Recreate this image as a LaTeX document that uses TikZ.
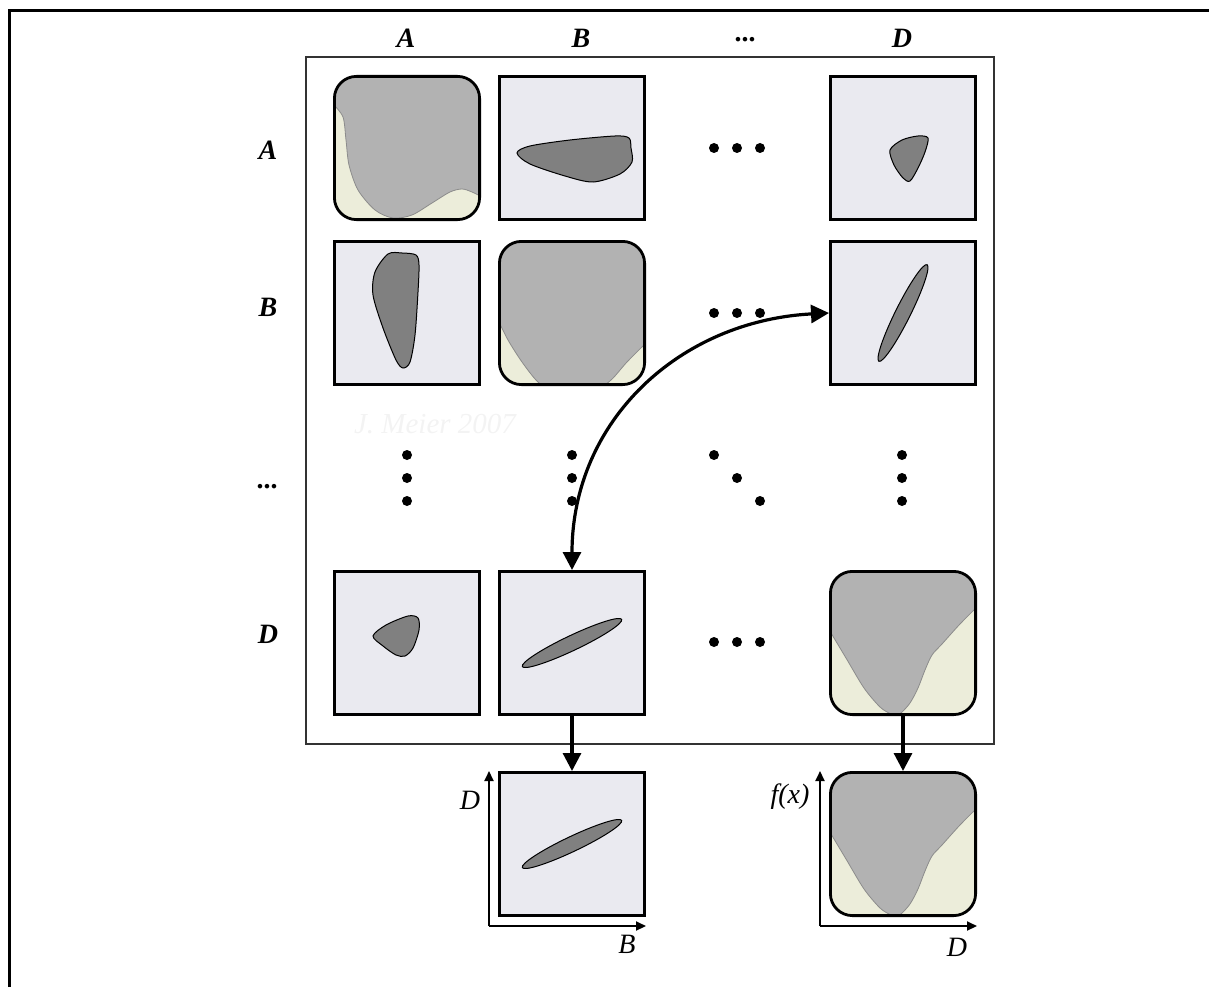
\documentclass[tikz,border=0pt]{standalone}
\usepackage{fontspec}
\setmainfont{Liberation Serif}
\usetikzlibrary{arrows.meta}
\definecolor{cellbg}{RGB}{234,234,240}
\definecolor{beige}{RGB}{236,237,218}
\definecolor{region}{RGB}{178,178,178}
\definecolor{regionln}{RGB}{140,140,140}
\definecolor{blobc}{RGB}{128,128,128}
\definecolor{wm}{RGB}{243,243,243}
\begin{document}
\begin{tikzpicture}[x=1pt,y=-1pt,
  cell/.style={draw=black,line width=2.8pt,fill=cellbg,minimum width=145.2pt,minimum height=143.2pt,inner sep=0pt},
  rcell/.style={draw=black,line width=2.8pt,rounded corners=22pt,minimum width=145.2pt,minimum height=143.2pt,inner sep=0pt},
  blob/.style={fill=blobc,draw=black,line width=1pt},
  regfill/.style={fill=region},
  regline/.style={draw=regionln,line width=0.8pt},
  lab/.style={font=\fontsize{28}{30}\selectfont\bfseries\itshape,inner sep=0pt},
  axlab/.style={font=\fontsize{28}{30}\selectfont\itshape,inner sep=0pt},
  arr/.style={line width=3.2pt,-{Triangle[length=18pt,width=18pt]}},
  darr/.style={line width=3.2pt,{Triangle[length=18pt,width=18pt]}-{Triangle[length=18pt,width=18pt]}},
  axis/.style={line width=2pt,-{Triangle[length=10pt,width=9pt]}},
  dot/.style={fill=black}
]
\useasboundingbox (0,0) rectangle (1209,987);
% outer frame (top and left)
\draw[line width=3pt] (9,987) -- (9,11) -- (1209,11);
% inner frame
\draw[line width=1.3pt,draw=black!80] (306,57) rectangle (994,744);
% watermark
\node[font=\fontsize{29}{32}\selectfont\itshape,text=wm] (wmark) at (435,424) {J. Meier 2007};

% column labels
\node[lab] (cA) at (406,38) {A};
\node[lab] (cB) at (581,38) {B};
\node[lab] (cdots) at (746,40) {...};
\node[lab] (cD) at (902,38) {D};
% row labels
\node[lab] (rA) at (268,150) {A};
\node[lab] (rB) at (268,307) {B};
\node[lab] (rdots) at (268,487) {...};
\node[lab] (rD) at (268,634) {D};

% ---------- cell A-A (rounded)
\begin{scope}
\clip[rounded corners=22pt] (334.4,76.4) rectangle (479.6,219.6);
\fill[beige] (330,70) rectangle (485,225);
\fill[regfill] (330,70) -- (330,104) -- plot[smooth] coordinates {(333,104) (343,117) (346,140) (349,165) (358,190) (375,210) (393,218) (412,215) (432,203) (450,192) (462,189) (472,192) (482,197)} -- (485,197) -- (485,70) -- cycle;
\draw[regline] plot[smooth] coordinates {(333,104) (343,117) (346,140) (349,165) (358,190) (375,210) (393,218) (412,215) (432,203) (450,192) (462,189) (472,192) (482,197)};
\end{scope}
\node[rcell] (AA) at (407,148) {};

% ---------- cell A-B
\node[cell] (AB) at (572,148) {};
\draw[blob] plot[smooth cycle] coordinates {(517,153) (530,146) (570,140) (615,136) (629,138) (631,148) (632,162) (620,174) (593,182) (565,176) (530,164)};

% ---------- cell A-D
\node[cell] (AD) at (903,148) {};
\draw[blob] plot[smooth cycle] coordinates {(890,150) (902,140) (918,136) (928,138) (925,152) (918,168) (910,181) (903,178) (894,165)};

% ---------- cell B-A
\node[cell] (BA) at (407,313) {};
\draw[blob] plot[smooth cycle] coordinates {(388,254) (402,253) (416,255) (419,265) (418,292) (415,335) (410,362) (403,368) (396,360) (383,328) (373,295) (375,272)};

% ---------- cell B-B (rounded)
\begin{scope}
\clip[rounded corners=22pt] (499.4,241.4) rectangle (644.6,384.6);
\fill[beige] (494,236) rectangle (650,390);
\fill[regfill] (494,236) -- (494,318) -- plot[smooth] coordinates {(497,318) (508,340) (522,362) (537,381) (548,386) (598,386) (611,380) (627,362) (647,342)} -- (650,342) -- (650,236) -- cycle;
\draw[regline] plot[smooth] coordinates {(497,318) (508,340) (522,362) (537,381) (548,386) (598,386) (611,380) (627,362) (647,342)};
\end{scope}
\node[rcell] (BB) at (572,313) {};

% ---------- cell B-D
\node[cell] (BD) at (903,313) {};
\draw[blob,rotate around={63.5:(903,313)}] (903,313) ellipse [x radius=54pt, y radius=7.5pt];

% ---------- cell D-A
\node[cell] (DA) at (407,643) {};
\draw[blob] plot[smooth cycle] coordinates {(373,636) (386,625) (408,616) (418,618) (419,630) (413,648) (405,656) (396,655) (383,646)};

% ---------- cell D-B
\node[cell] (DB) at (572,643) {};
\draw[blob,rotate around={25.4:(572,643)}] (572,643) ellipse [x radius=55pt, y radius=7.5pt];

% ---------- cell D-D (rounded) and its copy
\foreach \dy in {0,201}{
\begin{scope}[shift={(0,\dy)}]
\begin{scope}
\clip[rounded corners=22pt] (830.4,571.4) rectangle (975.6,714.6);
\fill[beige] (825,565) rectangle (982,720);
\fill[regfill] (825,565) -- (825,628) -- plot[smooth] coordinates {(828,628) (846,658) (864,688) (880,707) (891,714) (896,715) (901,713) (910,703) (918,688) (925,670) (932,655) (942,644) (960,624) (979,605)} -- (982,605) -- (982,565) -- cycle;
\draw[regline] plot[smooth] coordinates {(828,628) (846,658) (864,688) (880,707) (891,714) (896,715) (901,713) (910,703) (918,688) (925,670) (932,655) (942,644) (960,624) (979,605)};
\end{scope}
\end{scope}
}
\node[rcell] (DD) at (903,643) {};
\node[rcell] (DDc) at (903,844) {};

% ---------- copy of D-B
\node[cell] (DBc) at (572,844) {};
\draw[blob,rotate around={25.4:(572,844)}] (572,844) ellipse [x radius=55pt, y radius=7.5pt];

% ---------- dots
\foreach \x in {714,737,760}{
  \fill[dot] (\x,148) circle[radius=5];
  \fill[dot] (\x,313) circle[radius=5];
  \fill[dot] (\x,642) circle[radius=5];
}
\foreach \y in {455,478,501}{
  \fill[dot] (407,\y) circle[radius=5];
  \fill[dot] (572,\y) circle[radius=5];
  \fill[dot] (902,\y) circle[radius=5];
}
\fill[dot] (714,455) circle[radius=5];
\fill[dot] (737,478) circle[radius=5];
\fill[dot] (760,501) circle[radius=5];

% ---------- connectors
\draw[darr] (DB.north) to[out=90,in=183,looseness=1.05] (BD.west);
\draw[arr] (DB.south) -- (DBc.north);
\draw[arr] (DD.south) -- (DDc.north);

% ---------- axes
\coordinate (o1) at (489,926);
\coordinate (y1) at (489,771);
\coordinate (x1) at (646,926);
\coordinate (o2) at (820,926);
\coordinate (y2) at (820,771);
\coordinate (x2) at (977,926);
\draw[axis] (o1) -- (y1);
\draw[axis] (o1) -- (x1);
\draw[axis] (o2) -- (y2);
\draw[axis] (o2) -- (x2);
\node[axlab] (lD1) at (470,800) {D};
\node[axlab] (lB1) at (627,944) {B};
\node[axlab] (lf) at (790,797) {f(x)};
\node[axlab] (lD2) at (957,947) {D};
\end{tikzpicture}
\end{document}
